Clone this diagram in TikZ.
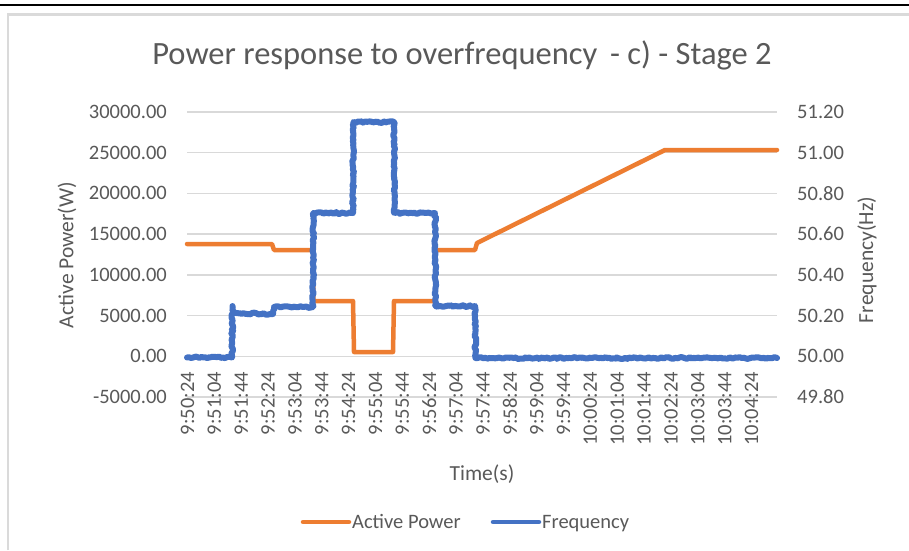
\documentclass[tikz,border=0pt]{standalone}
\usepackage{fontspec}
\setmainfont{Carlito}
\usetikzlibrary{decorations.pathmorphing}
\definecolor{txt}{HTML}{595959}
\definecolor{gridc}{HTML}{D9D9D9}
\definecolor{framec}{HTML}{DADADA}
\definecolor{apow}{HTML}{ED7D31}
\definecolor{freq}{HTML}{4472C4}
\tikzset{
  tick/.style={text=txt,font=\fontsize{20.5}{22}\selectfont,inner sep=0pt},
  axtitle/.style={text=txt,font=\fontsize{21.5}{24}\selectfont,inner sep=0pt},
  gridline/.style={draw=gridc,line width=1.3pt},
  powerline/.style={draw=apow,line width=4.5pt,line join=round,line cap=round},
  freqline/.style={draw=freq,line width=6pt,line join=round,line cap=round},
}
\begin{document}
\begin{tikzpicture}[x=1pt,y=-1pt]
\pgfmathsetseed{7}
\useasboundingbox (0,0) rectangle (909,550);
\fill[white] (0,0) rectangle (909,550);
% top rule and frame
\draw[line width=2.6pt] (0,5) -- (909,5);
\draw[framec,line width=2.2pt] (8,550) -- (8,14.5) -- (909,14.5);
% title
\node[text=txt,font=\fontsize{32.5}{36}\selectfont,inner sep=0pt] (title) at (462,55) {Power response to overfrequency\, - c) - Stage 2};
% grid
\foreach \y in {112,152.7,193.4,234.1,274.9,315.6,356.3,397}
  \draw[gridline] (187,\y) -- (777,\y);
% left tick labels
\foreach \v/\y [count=\i] in {30000.00/112,25000.00/152.7,20000.00/193.4,15000.00/234.1,10000.00/274.9,5000.00/315.6,0.00/356.3,-5000.00/397}
  \node[tick,anchor=east] (yl\i) at (167,\y) {\v};
% right tick labels
\foreach \v/\y [count=\i] in {51.20/112,51.00/152.7,50.80/193.4,50.60/234.1,50.40/274.9,50.20/315.6,50.00/356.3,49.80/397}
  \node[tick,anchor=west] (yr\i) at (797,\y) {\v};
% x tick labels
\foreach \t [count=\i from 0] in {9:50:24,9:51:04,9:51:44,9:52:24,9:53:04,9:53:44,9:54:24,9:55:04,9:55:44,9:56:24,9:57:04,9:57:44,9:58:24,9:59:04,9:59:44,10:00:24,10:01:04,10:01:44,10:02:24,10:03:04,10:03:44,10:04:24}
  \node[tick,rotate=90,anchor=east] (xl\i) at ({187.5+26.86*\i},372) {\t};
% axis titles
\node[axtitle,rotate=90] (ytitle) at (67,255) {Active Power(W)};
\node[axtitle,rotate=90] (y2title) at (867,260) {Frequency(Hz)};
\node[axtitle] (xtitle) at (482,474) {Time(s)};
% active power series
\draw[powerline]
  (187,244) -- (272,244) -- (274,250) -- (313,250) -- (313.5,301) -- (353,301) -- (354,352)
  -- (393,352) -- (394,301) -- (435.5,301) -- (435.5,250) -- (475,250) -- (477,243) -- (665,150) -- (777,150);
% frequency series
\draw[freqline,decorate,decoration={random steps,segment length=2pt,amplitude=0.9pt}]
  (187,357.5) -- (232,357.5) -- (232.5,306) -- (234,313) -- (273,314) -- (274,307) -- (313,307)
  -- (313.5,213) -- (353,213) -- (353.5,122) -- (394,122) -- (394.5,213) -- (435,213)
  -- (435.5,306) -- (475,306) -- (475.5,358) -- (777,358);
% legend
\draw[apow,line width=4.5pt,line cap=round] (303,522) coordinate (lg1a) -- (349,522) coordinate (lg1b);
\node[tick,anchor=base west] (lgt1) at (352,528.5) {Active Power};
\draw[freq,line width=4.5pt,line cap=round] (493,522) coordinate (lg2a) -- (539,522) coordinate (lg2b);
\node[tick,anchor=base west] (lgt2) at (542,528.5) {Frequency};
\end{tikzpicture}
\end{document}
